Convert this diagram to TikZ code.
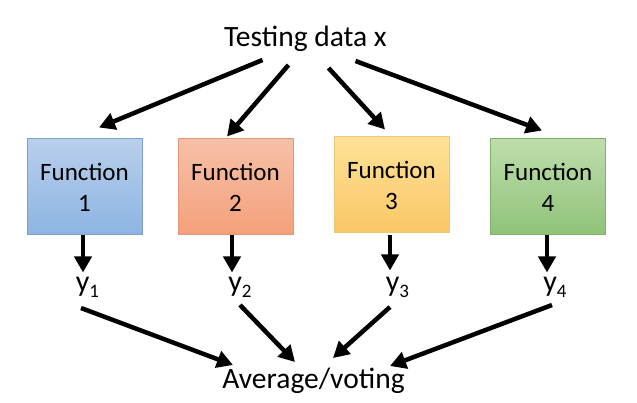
\documentclass[tikz,border=0pt]{standalone}
\usepackage{fontspec}
\setmainfont{Carlito}
\usetikzlibrary{calc,arrows.meta}
\definecolor{bTop}{RGB}{184,207,236}
\definecolor{bBot}{RGB}{141,180,226}
\definecolor{bLine}{RGB}{125,160,205}
\definecolor{oTop}{RGB}{247,192,168}
\definecolor{oBot}{RGB}{244,160,122}
\definecolor{oLine}{RGB}{226,152,118}
\definecolor{yTop}{RGB}{254,226,152}
\definecolor{yBot}{RGB}{250,198,100}
\definecolor{yLine}{RGB}{240,200,115}
\definecolor{gTop}{RGB}{190,221,172}
\definecolor{gBot}{RGB}{143,195,120}
\definecolor{gLine}{RGB}{130,175,105}
\begin{document}
\begin{tikzpicture}[x=1pt,y=-1pt,
  fbox/.style={minimum width=115pt,minimum height=96pt,inner sep=0pt,line width=1pt,
    align=center,font=\fontsize{25}{31}\selectfont},
  big/.style={inner sep=0pt,font=\fontsize{29.5}{34}\selectfont,anchor=base},
  ylab/.style={inner sep=0pt,font=\fontsize{30}{34}\selectfont,anchor=base},
  arr/.style={line width=4.5pt,-{Triangle[length=16pt,width=17pt]}}]
\useasboundingbox (0,0) rectangle (637,403);
\newcommand{\ysub}[1]{y\raisebox{-0.17em}{\fontsize{19}{19}\selectfont #1}}
\node[big] (tx) at (305.5,47) {Testing data x};
\node[fbox,draw=bLine,top color=bTop,bottom color=bBot] (f1) at (84.5,187) {Function\\1};
\node[fbox,draw=oLine,top color=oTop,bottom color=oBot] (f2) at (235.5,187) {Function\\2};
\node[fbox,draw=yLine,top color=yTop,bottom color=yBot] (f3) at (391.5,185) {Function\\3};
\node[fbox,draw=gLine,top color=gTop,bottom color=gBot] (f4) at (548,187) {Function\\4};
\node[ylab] (y1) at (87.5,292) {\ysub{1}};
\node[ylab] (y2) at (240,292) {\ysub{2}};
\node[ylab] (y3) at (397.5,292) {\ysub{3}};
\node[ylab] (y4) at (555,292) {\ysub{4}};
\node[big] (av) at (313.5,388) {Average/voting};
% top arrows
\draw[arr] ($(tx.base)+(-43,13)$) -- ($(f1.north)+(14.5,-11)$);
\draw[arr] ($(tx.base)+(-17,18)$) -- ($(f2.north)+(-8.5,-2)$);
\draw[arr] ($(tx.base)+(23,21)$) -- ($(f3.north)+(-6.5,-7)$);
\draw[arr] ($(tx.base)+(50,14)$) -- ($(f4.north)+(-6,-8)$);
% vertical arrows
\draw[arr] ($(f1.south)+(-1.5,0)$) -- ++(0,37);
\draw[arr] ($(f2.south)+(-3.5,0)$) -- ++(0,37);
\draw[arr] ($(f3.south)+(-1.5,2)$) -- ++(0,35);
\draw[arr] ($(f4.south)+(-1,0)$) -- ++(0,37);
% bottom arrows
\draw[arr] ($(y1.base)+(-6.5,16)$) -- ($(av.base)+(-80.5,-23)$);
\draw[arr] ($(y2.base)+(0,13)$) -- ($(av.base)+(-18.5,-26)$);
\draw[arr] ($(y3.base)+(-7.5,15)$) -- ($(av.base)+(19.5,-30)$);
\draw[arr] ($(y4.base)+(-3,13)$) -- ($(av.base)+(76.5,-22)$);
\end{tikzpicture}
\end{document}
